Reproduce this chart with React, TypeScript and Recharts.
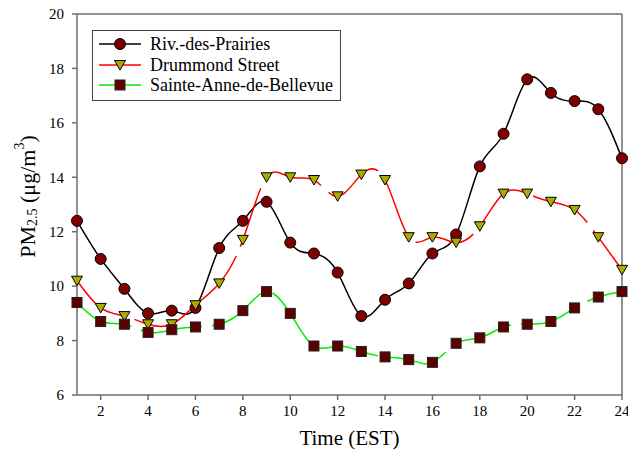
import React from 'react';
import { LineChart, Line, XAxis, YAxis, ReferenceLine, Legend, Label } from 'recharts';

// Hourly mean PM2.5 concentrations (µg/m³) at three Montréal stations
const hours = [1, 2, 3, 4, 5, 6, 7, 8, 9, 10, 11, 12, 13, 14, 15, 16, 17, 18, 19, 20, 21, 22, 23, 24];
const rivDesPrairies = [12.4, 11.0, 9.9, 9.0, 9.1, 9.2, 11.4, 12.4, 13.1, 11.6, 11.2, 10.5, 8.9, 9.5, 10.1, 11.2, 11.9, 14.4, 15.6, 17.6, 17.1, 16.8, 16.5, 14.7];
const drummondStreet = [10.2, 9.2, 8.9, 8.6, 8.6, 9.3, 10.1, 11.7, 14.0, 14.0, 13.9, 13.3, 14.1, 13.9, 11.8, 11.8, 11.6, 12.2, 13.4, 13.4, 13.1, 12.8, 11.8, 10.6];
const sainteAnneDeBellevue = [9.4, 8.7, 8.6, 8.3, 8.4, 8.5, 8.6, 9.1, 9.8, 9.0, 7.8, 7.8, 7.6, 7.4, 7.3, 7.2, 7.9, 8.1, 8.5, 8.6, 8.7, 9.2, 9.6, 9.8];

const seriesNames = ['Riv.-des-Prairies', 'Drummond Street', 'Sainte-Anne-de-Bellevue'];
const xTicks = [2, 4, 6, 8, 10, 12, 14, 16, 18, 20, 22, 24];
const yTicks = [6, 8, 10, 12, 14, 16, 18, 20];

const data = hours.map((h, i) => ({
  hour: h,
  riv: rivDesPrairies[i],
  drum: drummondStreet[i],
  ste: sainteAnneDeBellevue[i],
}));

const FONT = '"Liberation Serif", "Times New Roman", serif';
const AXIS = '#6e6e6e';
const CIRCLE_FILL = '#800000';
const TRI_FILL = '#abab00';
const SQUARE_FILL = '#5e0000';

const circleShape = (cx: number, cy: number, key?: string) => (
  <circle key={key} cx={cx} cy={cy} r={5.5} fill={CIRCLE_FILL} stroke="#000" strokeWidth={1} />
);
const triangleShape = (cx: number, cy: number, key?: string) => (
  <path
    key={key}
    d={`M${cx - 5.5},${cy - 4.5} L${cx + 5.5},${cy - 4.5} L${cx},${cy + 5} Z`}
    fill={TRI_FILL}
    stroke="#000"
    strokeWidth={1}
  />
);
const squareShape = (cx: number, cy: number, key?: string) => (
  <rect key={key} x={cx - 5} y={cy - 5} width={10} height={10} fill={SQUARE_FILL} stroke="#222" strokeWidth={1} />
);

const CircleDot = (p: any) => (p.cx == null ? null : circleShape(p.cx, p.cy, `c-${p.index}`));
const TriangleDot = (p: any) => (p.cx == null ? null : triangleShape(p.cx, p.cy, `t-${p.index}`));
const SquareDot = (p: any) => (p.cx == null ? null : squareShape(p.cx, p.cy, `s-${p.index}`));

const legendItems = [
  { name: seriesNames[0], color: '#000000', shape: circleShape },
  { name: seriesNames[1], color: '#ff0000', shape: triangleShape },
  { name: seriesNames[2], color: '#00ee00', shape: squareShape },
];

const LegendBox = () => (
  <div
    style={{
      width: 247,
      height: 66,
      border: '1px solid #444',
      background: '#fff',
      boxSizing: 'content-box',
      paddingTop: 3,
      fontFamily: FONT,
      fontSize: 18,
      color: '#000',
    }}
  >
    {legendItems.map((it) => (
      <div key={it.name} style={{ display: 'flex', alignItems: 'center', height: 20.5 }}>
        <svg width={51} height={14} style={{ marginLeft: 6, flex: 'none' }}>
          <line x1={0} y1={7} x2={42} y2={7} stroke={it.color} strokeWidth={1.5} />
          {it.shape(21, 7)}
        </svg>
        <span style={{ lineHeight: '20px', whiteSpace: 'nowrap' }}>{it.name}</span>
      </div>
    ))}
  </div>
);

const YLabel = (props: any) => {
  const vb = props.viewBox || {};
  const x = 27;
  const y = (vb.y ?? 14) + (vb.height ?? 381) / 2 - 8;
  return (
    <text
      x={x}
      y={y}
      transform={`rotate(-90, ${x}, ${y})`}
      textAnchor="middle"
      dominantBaseline="central"
      fontFamily={FONT}
      fontSize={22}
      fill="#000"
    >
      <tspan>PM</tspan>
      <tspan fontSize={14} dy={5}>2.5</tspan>
      <tspan dy={-5}> (μg/m</tspan>
      <tspan fontSize={14} dy={-8}>3</tspan>
      <tspan dy={8}>)</tspan>
    </text>
  );
};

export default function App() {
  return (
    <div style={{ position: 'absolute', left: 0, top: 0, width: 628, height: 450, background: '#fff' }}>
      <LineChart width={628} height={450} data={data} margin={{ top: 14, right: 6, bottom: 0, left: 0 }}>
        <XAxis
          dataKey="hour"
          type="number"
          domain={[1, 24]}
          ticks={xTicks}
          interval={0}
          height={55}
          stroke={AXIS}
          strokeWidth={1.5}
          tickSize={5}
          tickMargin={5}
          tick={{ fill: '#000', fontFamily: FONT, fontSize: 15 }}
        >
          <Label value="Time (EST)" position="insideBottom" offset={5} style={{ fill: '#000', fontFamily: FONT, fontSize: 21 }} />
        </XAxis>
        <YAxis
          type="number"
          domain={[6, 20]}
          ticks={yTicks}
          interval={0}
          width={77}
          stroke={AXIS}
          strokeWidth={1.5}
          tickSize={5}
          tickMargin={8}
          tick={{ fill: '#000', fontFamily: FONT, fontSize: 15 }}
        >
          <Label content={<YLabel />} />
        </YAxis>
        <ReferenceLine y={20} stroke={AXIS} strokeWidth={1.5} />
        <ReferenceLine x={24} stroke={AXIS} strokeWidth={1.5} />
        <Legend
          layout="horizontal"
          verticalAlign="middle"
          align="center"
          content={<LegendBox />}
          wrapperStyle={{ position: 'absolute', left: 92, top: 30, width: 'auto', margin: 0 }}
        />
        <Line
          name={seriesNames[0]}
          dataKey="riv"
          type="natural"
          stroke="#000000"
          strokeWidth={1.5}
          dot={CircleDot}
          activeDot={false}
          isAnimationActive={false}
        />
        <Line
          name={seriesNames[1]}
          dataKey="drum"
          type="natural"
          stroke="#ff0000"
          strokeWidth={1.5}
          strokeDasharray="62 10"
          dot={TriangleDot}
          activeDot={false}
          isAnimationActive={false}
        />
        <Line
          name={seriesNames[2]}
          dataKey="ste"
          type="natural"
          stroke="#00ee00"
          strokeWidth={1.5}
          strokeDasharray="62 10"
          dot={SquareDot}
          activeDot={false}
          isAnimationActive={false}
        />
      </LineChart>
    </div>
  );
}
